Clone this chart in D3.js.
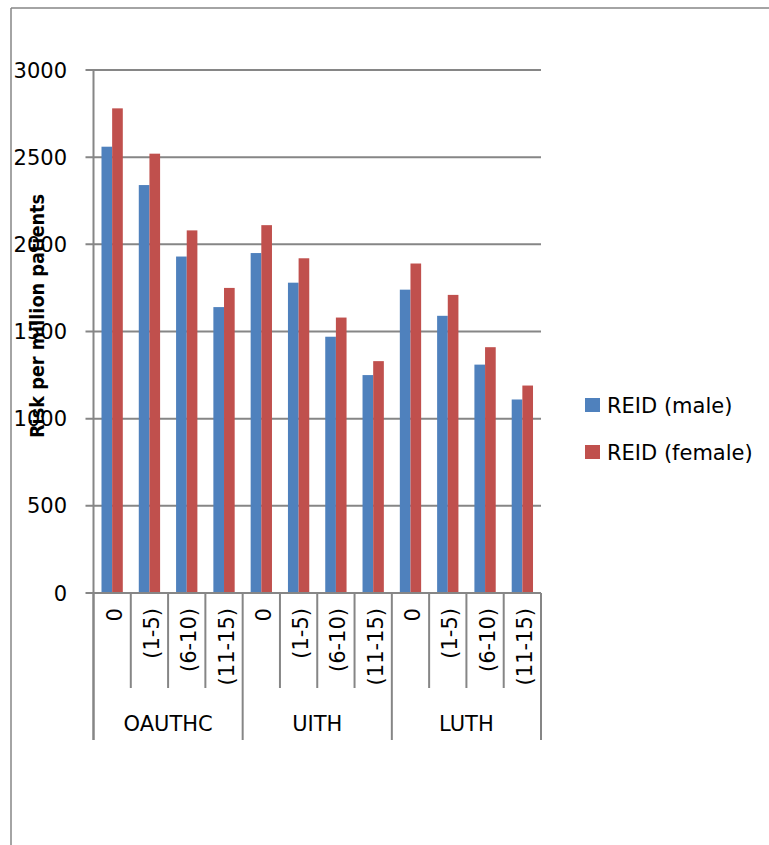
<!DOCTYPE html>
<html>
<head>
<meta charset="utf-8">
<script src="https://cdn.jsdelivr.net/npm/d3@7"></script>
<style>
html,body{margin:0;padding:0;background:#fff;}
svg{display:block;}
text{font-family:"DejaVu Sans",sans-serif;fill:#000;}
</style>
</head>
<body>
<svg id="chart" width="769" height="845"></svg>
<script>
const groups = ["OAUTHC", "UITH", "LUTH"];
const subCategories = ["0", "(1-5)", "(6-10)", "(11-15)"];
const seriesNames = ["REID (male)", "REID (female)"];
const maleValues = [2560, 2340, 1930, 1640, 1950, 1780, 1470, 1250, 1740, 1590, 1310, 1110];
const femaleValues = [2780, 2520, 2080, 1750, 2110, 1920, 1580, 1330, 1890, 1710, 1410, 1190];
const yTicks = [0, 500, 1000, 1500, 2000, 2500, 3000];
const yTitle = "Risk per million patients";

(function () {
const colors = ["#4F81BD", "#C0504D"];
const gridColor = "#868686";

const svg = d3.select("#chart");
const pLeft = 93.5, pRight = 541, pTop = 70, pBottom = 593;

// outer border
svg.append("line").attr("x1", 11).attr("x2", 11).attr("y1", 8).attr("y2", 845)
  .attr("stroke", gridColor).attr("stroke-width", 1.5);
svg.append("line").attr("x1", 11).attr("x2", 769).attr("y1", 8).attr("y2", 8)
  .attr("stroke", gridColor).attr("stroke-width", 1.5);

const cats = [];
groups.forEach(g => subCategories.forEach(s => cats.push(g + "|" + s)));

const x = d3.scaleBand().domain(cats).range([pLeft, pRight]).paddingInner(0).paddingOuter(0);
const y = d3.scaleLinear().domain([0, 3000]).range([pBottom, pTop]);
const barW = x.bandwidth() / 3.5;

// gridlines
svg.append("g").selectAll("line").data(yTicks).join("line")
  .attr("x1", pLeft - 8).attr("x2", pRight)
  .attr("y1", d => y(d)).attr("y2", d => y(d))
  .attr("stroke", gridColor).attr("stroke-width", 2);

// y tick labels
svg.append("g").selectAll("text").data(yTicks).join("text")
  .attr("x", 67).attr("y", d => y(d)).attr("dy", "0.36em")
  .attr("text-anchor", "end").style("font-size", "21px")
  .text(d => d);

// bars
const gBars = svg.append("g");
[maleValues, femaleValues].forEach((vals, si) => {
  gBars.selectAll(null).data(cats).join("rect")
    .attr("x", (c) => x(c) + (x.bandwidth() - 2 * barW) / 2 + si * barW)
    .attr("width", barW)
    .attr("y", (c, i) => y(vals[i]))
    .attr("height", (c, i) => y(0) - y(vals[i]))
    .attr("fill", colors[si]);
});

// y axis line
svg.append("line").attr("x1", pLeft).attr("x2", pLeft).attr("y1", pTop).attr("y2", 740)
  .attr("stroke", gridColor).attr("stroke-width", 2);

// category axis line
svg.append("line").attr("x1", pLeft).attr("x2", pRight).attr("y1", pBottom).attr("y2", pBottom)
  .attr("stroke", gridColor).attr("stroke-width", 2);

// category separators
const bounds = cats.map(c => x(c)).concat([pRight]);
svg.append("g").selectAll("line").data(bounds).join("line")
  .attr("x1", d => d).attr("x2", d => d)
  .attr("y1", pBottom)
  .attr("y2", (d, i) => (i % 4 === 0) ? 740 : 688)
  .attr("stroke", gridColor).attr("stroke-width", 2);

// sub category labels
svg.append("g").selectAll("text").data(cats).join("text")
  .attr("transform", c => `translate(${x(c) + x.bandwidth() / 2 + 2},608) rotate(-90)`)
  .attr("dy", "0.36em")
  .attr("text-anchor", "end").style("font-size", "21px")
  .text(c => c.split("|")[1]);

// group labels
const gx = d3.scaleBand().domain(groups).range([pLeft, pRight]);
svg.append("g").selectAll("text").data(groups).join("text")
  .attr("x", g => gx(g) + gx.bandwidth() / 2).attr("y", 723).attr("dy", "0.36em")
  .attr("text-anchor", "middle").style("font-size", "21px")
  .text(g => g);

// y title
svg.append("text")
  .attr("transform", "translate(37,316) rotate(-90)")
  .attr("text-anchor", "middle").attr("dy", "0.36em")
  .attr("textLength", 244).attr("lengthAdjust", "spacingAndGlyphs")
  .style("font-size", "20px").style("font-weight", "bold")
  .text(yTitle);

// legend
const leg = svg.append("g");
seriesNames.forEach((n, i) => {
  const cy = 405 + i * 47;
  leg.append("rect").attr("x", 585).attr("y", cy - 7).attr("width", 15).attr("height", 14)
    .attr("fill", colors[i]);
  leg.append("text").attr("x", 607).attr("y", cy).attr("dy", "0.36em")
    .style("font-size", "21px").text(n);
});
})();
</script>
</body>
</html>
